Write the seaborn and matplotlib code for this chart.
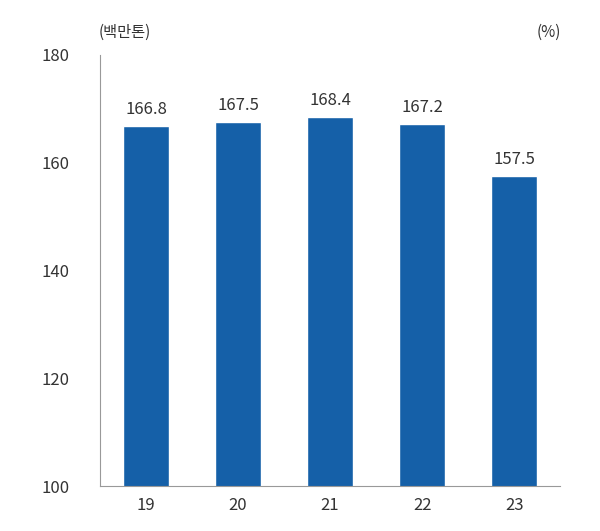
import pandas as pd
import seaborn as sns
import matplotlib.pyplot as plt

years = ["19", "20", "21", "22", "23"]
values = [166.8, 167.5, 168.4, 167.2, 157.5]
y_ticks = [100, 120, 140, 160, 180]

sns.set_theme(style="white")
plt.rcParams['font.family'] = ['Noto Sans CJK KR', 'DejaVu Sans']

df = pd.DataFrame({"year": years, "value": values})

fig = plt.figure(figsize=(6, 5.31), dpi=100)
ax = fig.add_axes([0.1667, 0.0847, 0.767, 0.812])
sns.barplot(data=df, x="year", y="value", color="#1560a8", saturation=1, width=0.5, ax=ax)

ax.set_ylim(100, 180)
ax.set_yticks(y_ticks)
ax.set_xlim(-0.5, len(years) - 0.5)
ax.set_xlabel("")
ax.set_ylabel("")
ax.tick_params(axis="both", labelsize=12, colors="#333333", length=0, pad=8)
ax.tick_params(axis="y", pad=22)
for s in ["top", "right"]:
    ax.spines[s].set_visible(False)
for s in ["left", "bottom"]:
    ax.spines[s].set_color("#999999")
    ax.spines[s].set_linewidth(0.8)

for i, v in enumerate(values):
    ax.text(i, v + 1.5, f"{v:.1f}", ha="center", va="bottom", fontsize=12, color="#333333")

fig.text(0.165, 0.94, "(백만톤)", fontsize=11, color="#333333", ha="left", va="center")
fig.text(0.935, 0.94, "(%)", fontsize=11, color="#333333", ha="right", va="center")

fig.savefig("out.png", dpi=100)
